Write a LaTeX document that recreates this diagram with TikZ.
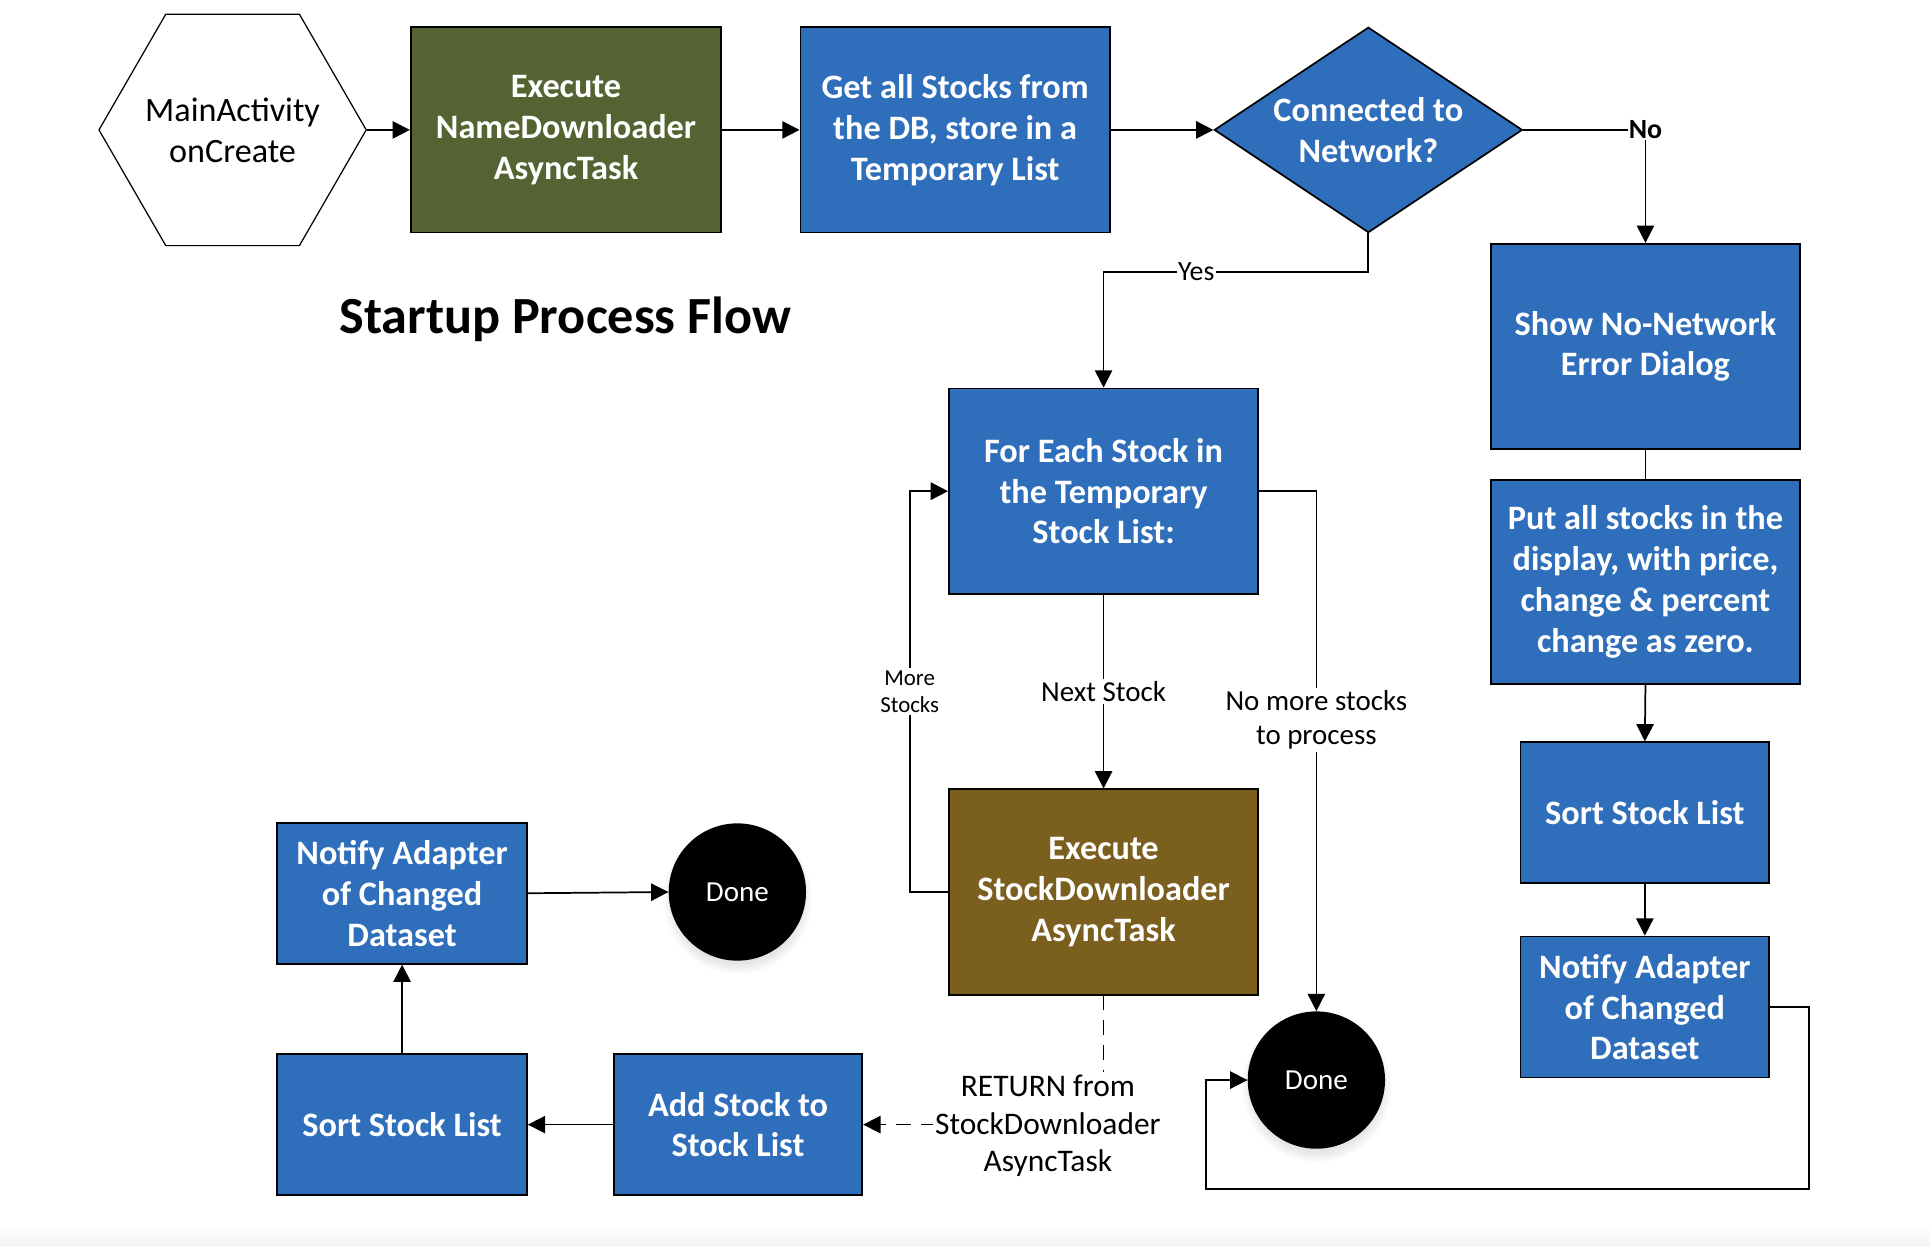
\documentclass[tikz,border=0pt]{standalone}
\usepackage{fontspec}
\setmainfont{Carlito}
\usetikzlibrary{shapes.geometric,arrows.meta,shadows}
\definecolor{boxblue}{RGB}{47,110,186}
\definecolor{boxgreen}{RGB}{85,99,50}
\definecolor{boxbrown}{RGB}{123,95,31}
\begin{document}
\begin{tikzpicture}[x=1pt,y=-1pt,
  box/.style={draw=black,line width=1.4pt,fill=boxblue,text=white,font=\fontsize{27.7}{33}\selectfont\bfseries,align=center,inner sep=0pt},
  arr/.style={line width=1.4pt,-{Triangle[length=14pt,width=14pt]}},
  ln/.style={line width=1.4pt},
  lbl/.style={fill=white,inner sep=2pt,font=\fontsize{23.4}{27.5}\selectfont,align=center},
  donec/.style={circle,fill=black,text=white,minimum size=111pt,inner sep=0pt,font=\fontsize{23.5}{27}\selectfont,circular drop shadow={shadow xshift=0pt,shadow yshift=-5pt,opacity=0.2}}
]
\useasboundingbox (0,0) rectangle (1560,1007);
\shade[top color=white,bottom color=black!5] (0,990) rectangle (1560,1007);

% nodes
\node[regular polygon,regular polygon sides=6,minimum size=216pt,draw=black,line width=1pt,inner sep=-25pt,align=center,font=\fontsize{27.6}{33}\selectfont] (hex) at (188,105) {MainActivity\\onCreate};
\node[box,fill=boxgreen,minimum width=251pt,minimum height=166pt] (name) at (457.5,105) {Execute\\NameDownloader\\AsyncTask};
\node[box,minimum width=250pt,minimum height=166pt] (getall) at (772,105) {Get all Stocks from\\the DB, store in a\\Temporary List};
\node[box,diamond,shape aspect=1.5,inner sep=-4pt,minimum width=249pt,minimum height=166pt] (conn) at (1106,105) {Connected to\\Network?};
\node[box,minimum width=250pt,minimum height=166pt] (show) at (1330,280) {Show No-Network\\Error Dialog};
\node[box,minimum width=250pt,minimum height=165pt] (put) at (1330,470.5) {Put all stocks in the\\display, with price,\\change \& percent\\change as zero.};
\node[box,minimum width=201pt,minimum height=114pt] (sortR) at (1329.5,657) {Sort Stock List};
\node[box,minimum width=201pt,minimum height=114pt] (notR) at (1329.5,814) {Notify Adapter\\of Changed\\Dataset};
\node[box,minimum width=250pt,minimum height=166pt] (foreach) at (892,397) {For Each Stock in\\the Temporary\\Stock List:};
\node[box,fill=boxbrown,minimum width=250pt,minimum height=166pt] (exe2) at (892,721) {Execute\\StockDownloader\\AsyncTask};
\node[donec] (done2) at (1064,873) {Done};
\node[box,minimum width=201pt,minimum height=114pt] (add) at (596.5,909) {Add Stock to\\Stock List};
\node[box,minimum width=202pt,minimum height=114pt] (sortL) at (325,909) {Sort Stock List};
\node[box,minimum width=202pt,minimum height=114pt] (notL) at (325,722) {Notify Adapter\\of Changed\\Dataset};
\node[donec] (done1) at (596,721) {Done};
\node[font=\fontsize{42.2}{50}\selectfont\bfseries] (title) at (457,258) {Startup Process Flow};

% connectors
\draw[arr] (hex.east) -- (name.west);
\draw[arr] (name.east) -- (getall.west);
\draw[arr] (getall.east) -- (conn.west);
\draw[arr] (conn.east) -| node[pos=0.5,fill=white,inner sep=1pt,font=\fontsize{22.5}{26}\selectfont\bfseries] {No} (show.north);
\draw[arr] (conn.south) -- ++(0,31) -| node[pos=0.325,fill=white,inner sep=1pt,font=\fontsize{22.5}{26}\selectfont] {Yes} (foreach.north);
\draw[ln] (show.south) -- (put.north);
\draw[arr] (put.south) -- (sortR.north);
\draw[arr] (sortR.south) -- (notR.north);
\draw[arr] (notR.east) -- (1462,814) |- (975,961) |- (done2.west);
\draw[arr] (foreach.south) -- node[lbl] {Next Stock} (exe2.north);
\draw[arr] (foreach.east) -| node[lbl,pos=0.72] {No more stocks\\to process} (done2.north);
\draw[arr] (exe2.west) -- ++(-31,0) |- node[lbl,pos=0.25,font=\fontsize{18.5}{22}\selectfont] {More\\Stocks} (foreach.west);
\draw[arr,dash pattern=on 12pt off 8pt] (exe2.south) |- (add.east);
\node[lbl,font=\fontsize{25.4}{30.5}\selectfont] (ret) at (847,910) {RETURN from\\StockDownloader\\AsyncTask};
\draw[arr] (add.west) -- (sortL.east);
\draw[arr] (sortL.north) -- (notL.south);
\draw[arr] (notL.east) -- (done1.west);
\end{tikzpicture}
\end{document}
